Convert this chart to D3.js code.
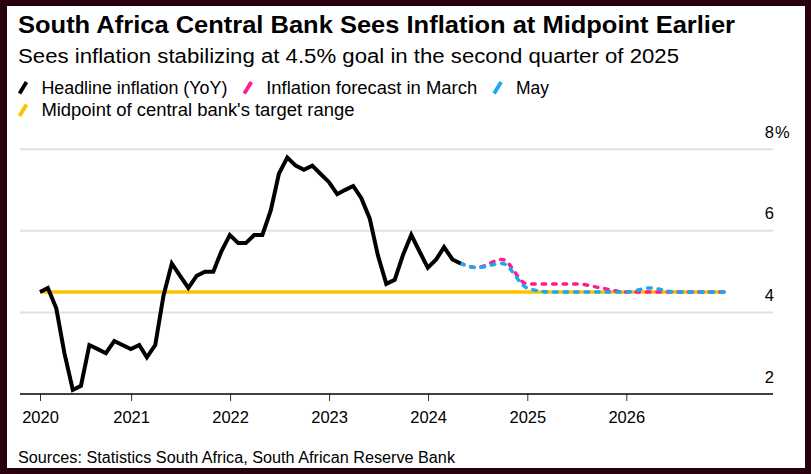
<!DOCTYPE html>
<html>
<head>
<meta charset="utf-8">
<script src="https://cdn.jsdelivr.net/npm/d3@7"></script>
<style>
  html, body { margin: 0; padding: 0; background: #290010; }
  svg { display: block; }
  text { font-family: "Liberation Sans", Arial, Helvetica, sans-serif; fill: #000; }
</style>
</head>
<body>
<div id="chart"></div>
<script>
// headline CPI, monthly (month of release period)
const headlineMonths = [
  '2020-01', '2020-02', '2020-03', '2020-04', '2020-05', '2020-06', '2020-07', '2020-08', '2020-09', '2020-10', '2020-11', '2020-12',
  '2021-01', '2021-02', '2021-03', '2021-04', '2021-05', '2021-06', '2021-07', '2021-08', '2021-09', '2021-10', '2021-11', '2021-12',
  '2022-01', '2022-02', '2022-03', '2022-04', '2022-05', '2022-06', '2022-07', '2022-08', '2022-09', '2022-10', '2022-11', '2022-12',
  '2023-01', '2023-02', '2023-03', '2023-04', '2023-05', '2023-06', '2023-07', '2023-08', '2023-09', '2023-10', '2023-11', '2023-12',
  '2024-01', '2024-02', '2024-03', '2024-04'
];
const headlineValues = [
  4.5, 4.6, 4.1, 3.0, 2.1, 2.2, 3.2, 3.1, 3.0, 3.3, 3.2, 3.1,
  3.2, 2.9, 3.2, 4.4, 5.2, 4.9, 4.6, 4.9, 5.0, 5.0, 5.5, 5.9,
  5.7, 5.7, 5.9, 5.9, 6.5, 7.4, 7.8, 7.6, 7.5, 7.6, 7.4, 7.2,
  6.9, 7.0, 7.1, 6.8, 6.3, 5.4, 4.7, 4.8, 5.4, 5.9, 5.5, 5.1,
  5.3, 5.6, 5.3, 5.2
];

// SARB quarterly projections, joined to the last actual print
const forecastDates = [
  '2024-04-30', '2024-06-30', '2024-09-30', '2024-12-31',
  '2025-03-31', '2025-06-30', '2025-09-30', '2025-12-31',
  '2026-03-31', '2026-06-30', '2026-09-30', '2026-12-31'
];
const marchForecast = [5.2, 5.1, 5.3, 4.7, 4.7, 4.7, 4.6, 4.5, 4.5, 4.5, 4.5, 4.5];
const mayForecast   = [5.2, 5.1, 5.2, 4.6, 4.5, 4.5, 4.5, 4.5, 4.6, 4.5, 4.5, 4.5];

const midpointDates = ['2020-01-31', '2026-12-31'];
const midpointValues = [4.5, 4.5];

const yTicks = [2, 4, 6, 8];
const xTickYears = ['2021', '2022', '2023', '2024', '2025', '2026'];

const legendLabels = ['Headline inflation (YoY)', 'Inflation forecast in March', 'May', "Midpoint of central bank's target range"];
const legendColors = ['#000000', '#ff1d8e', '#1aa8f0', '#fcc200'];

const title = 'South Africa Central Bank Sees Inflation at Midpoint Earlier';
const subtitle = 'Sees inflation stabilizing at 4.5% goal in the second quarter of 2025';
const source = 'Sources: Statistics South Africa, South African Reserve Bank';

(function() {
  'use strict';

  const width = 811;
  const height = 474;
  const plotLeft = 20;
  const plotRight = 773;

  const parseDay = d3.utcParse('%Y-%m-%d');
  const parseMonth = d3.utcParse('%Y-%m');
  const parseYear = d3.utcParse('%Y');
  // monthly prints are dated at month end
  const monthEnd = m => d3.utcDay.offset(d3.utcMonth.offset(parseMonth(m), 1), -1);

  const headline = headlineMonths.map((m, i) => ({ date: monthEnd(m), value: headlineValues[i] }));
  const march = forecastDates.map((d, i) => ({ date: parseDay(d), value: marchForecast[i] }));
  const may = forecastDates.map((d, i) => ({ date: parseDay(d), value: mayForecast[i] }));
  const midpoint = midpointDates.map((d, i) => ({ date: parseDay(d), value: midpointValues[i] }));

  const svg = d3.select('#chart')
    .append('svg')
    .attr('width', width)
    .attr('height', height);

  svg.append('rect')
    .attr('x', 7)
    .attr('y', 6)
    .attr('width', 798)
    .attr('height', 462)
    .attr('fill', '#fff');

  // titles
  svg.append('text')
    .attr('x', 18)
    .attr('y', 33)
    .attr('font-size', 24)
    .attr('font-weight', 'bold')
    .attr('textLength', 717)
    .attr('lengthAdjust', 'spacingAndGlyphs')
    .text(title);

  svg.append('text')
    .attr('x', 18)
    .attr('y', 63)
    .attr('font-size', 20)
    .attr('textLength', 661)
    .attr('lengthAdjust', 'spacingAndGlyphs')
    .text(subtitle);

  // legend (label widths, the font there is a bit wider)
  const legendWidths = [186, 211, 33, 313];
  const legendRows = [[0, 1, 2], [3]];
  legendRows.forEach((row, r) => {
    const baseline = 93.5 + r * 22.5;
    let x = 18;
    row.forEach(i => {
      svg.append('line')
        .attr('x1', x + 1.5)
        .attr('y1', baseline)
        .attr('x2', x + 8.5)
        .attr('y2', baseline - 11.5)
        .attr('stroke', legendColors[i])
        .attr('stroke-width', 3.8);
      svg.append('text')
        .attr('x', x + 23.4)
        .attr('y', baseline)
        .attr('font-size', 17.5)
        .attr('textLength', legendWidths[i])
        .attr('lengthAdjust', 'spacingAndGlyphs')
        .text(legendLabels[i]);
      x += 23.4 + legendWidths[i] + 15.4;
    });
  });

  // scales
  const x = d3.scaleUtc()
    .domain([headline[0].date, may[may.length - 1].date])
    .range([40, 725]);

  const y = d3.scaleLinear()
    .domain([2, 8])
    .range([394, 149.3]);

  // gridlines
  svg.append('g')
    .selectAll('line')
    .data(yTicks.filter(v => v > y.domain()[0]))
    .join('line')
    .attr('x1', plotLeft)
    .attr('x2', plotRight)
    .attr('y1', d => y(d))
    .attr('y2', d => y(d))
    .attr('stroke', '#e0e0e0')
    .attr('stroke-width', 2);

  // y labels on the right, sitting above the lines
  const yLabels = svg.append('g')
    .attr('font-size', 16.5);
  yLabels.selectAll('text.num')
    .data(yTicks)
    .join('text')
    .attr('class', 'num')
    .attr('x', 774)
    .attr('y', d => y(d) - 11.5)
    .attr('text-anchor', 'end')
    .text(d => d);
  yLabels.append('text')
    .attr('x', 775)
    .attr('y', y(d3.max(yTicks)) - 11.5)
    .text('%');

  // x axis
  const xTicks = [x.domain()[0]].concat(xTickYears.map(parseYear));
  const xAxis = d3.axisBottom(x)
    .tickValues(xTicks)
    .tickSize(7)
    .tickPadding(10)
    .tickFormat(d3.utcFormat('%Y'));

  const axisG = svg.append('g')
    .attr('transform', `translate(0,${y(2)})`)
    .call(xAxis);
  axisG.select('.domain').remove();
  axisG.selectAll('.tick line').attr('stroke', '#333');
  axisG.selectAll('.tick text')
    .attr('font-size', 16.5)
    .attr('font-family', '"Liberation Sans", Arial, sans-serif')
    .attr('fill', '#000');

  svg.append('line')
    .attr('x1', plotLeft)
    .attr('x2', plotRight)
    .attr('y1', y(2))
    .attr('y2', y(2))
    .attr('stroke', '#000')
    .attr('stroke-width', 1.3);

  // series
  const line = d3.line()
    .x(d => x(d.date))
    .y(d => y(d.value));

  const smooth = d3.line()
    .x(d => x(d.date))
    .y(d => y(d.value))
    .curve(d3.curveMonotoneX);

  svg.append('path')
    .datum(midpoint)
    .attr('d', line)
    .attr('fill', 'none')
    .attr('stroke', legendColors[3])
    .attr('stroke-width', 3.5);

  [[march, legendColors[1]], [may, legendColors[2]]].forEach(([data, color]) => {
    svg.append('path')
      .datum(data)
      .attr('d', smooth)
      .attr('fill', 'none')
      .attr('stroke', color)
      .attr('stroke-width', 3.5)
      .attr('stroke-linecap', 'round')
      .attr('stroke-dasharray', '3.5,7');
  });

  svg.append('path')
    .datum(headline)
    .attr('d', line)
    .attr('fill', 'none')
    .attr('stroke', legendColors[0])
    .attr('stroke-width', 4);

  // footer
  svg.append('text')
    .attr('x', 18)
    .attr('y', 463)
    .attr('font-size', 16)
    .attr('textLength', 437)
    .attr('lengthAdjust', 'spacingAndGlyphs')
    .text(source);
})();
</script>
</body>
</html>
